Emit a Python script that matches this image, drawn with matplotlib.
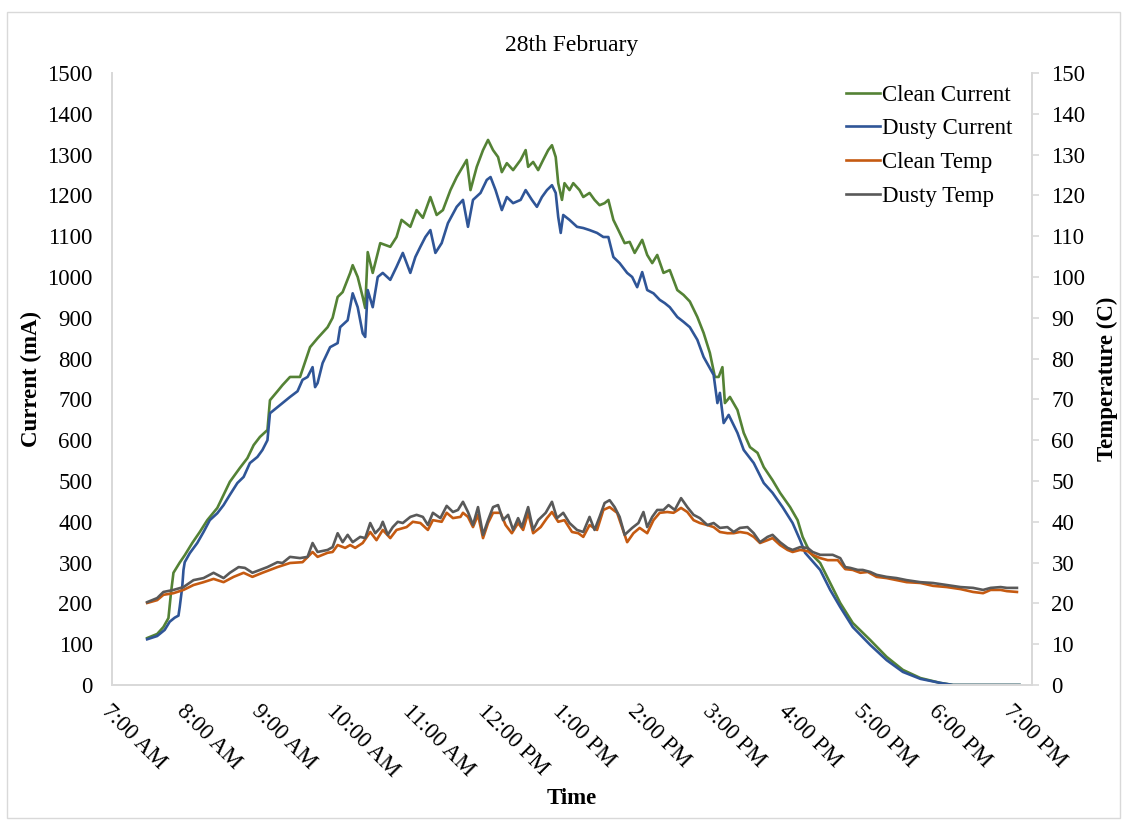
"""28th February: clean vs dusty panel current and temperature."""

import matplotlib

matplotlib.use("Agg")
import matplotlib.pyplot as plt
from matplotlib.patches import Rectangle

plt.rcParams["font.family"] = ["Liberation Serif", "DejaVu Serif"]

# minutes after 7:00 AM
clean_current_t = [28, 36, 41, 45, 47, 49, 52, 54, 58, 64, 70, 76, 84, 89, 94, 102, 108, 113,
                   118, 124, 126, 132, 136, 142, 150, 158, 164, 172, 176, 180, 184, 190, 192,
                   196, 200, 202, 204, 208, 214, 222, 227, 231, 238, 243, 248, 254, 259, 264,
                   270, 275, 283, 286, 291, 296, 300, 304, 308, 311, 315, 320, 326, 330, 332,
                   336, 340, 344, 348, 351, 354, 356, 359, 361, 365, 368, 373, 376, 381, 385,
                   389, 393, 396, 400, 404, 409, 413, 417, 423, 427, 431, 435, 440, 445, 451,
                   456, 461, 467, 472, 477, 481, 484, 487, 489, 493, 499, 504, 509, 515, 520,
                   527, 533, 541, 547, 551, 557, 565, 573, 581, 591, 605, 618, 631, 645, 661,
                   671, 724]
clean_current = [115, 125, 142, 164, 225, 275, 290, 300, 318, 348, 375, 404, 434, 466, 498,
                 532, 556, 588, 608, 625, 698, 720, 735, 755, 755, 828, 850, 877, 900, 951,
                 963, 1010, 1029, 1000, 951, 924, 1061, 1010, 1083, 1074, 1098, 1140, 1123,
                 1164, 1145, 1196, 1152, 1164, 1213, 1245, 1287, 1213, 1270, 1311, 1336, 1311,
                 1294, 1257, 1279, 1262, 1287, 1311, 1270, 1282, 1262, 1287, 1311, 1323, 1294,
                 1230, 1189, 1230, 1213, 1230, 1213, 1196, 1206, 1189, 1176, 1181, 1189, 1140,
                 1115, 1083, 1086, 1059, 1091, 1054, 1034, 1054, 1010, 1017, 968, 956, 940,
                 902, 863, 814, 755, 755, 779, 691, 706, 674, 618, 583, 569, 534, 502, 471,
                 436, 404, 363, 324, 299, 250, 201, 152, 110, 69, 37, 17, 5, 0, 0]

dusty_current_t = [28, 36, 42, 46, 50, 53, 54, 56, 57, 58, 62, 68, 73, 78, 84, 89, 94, 100,
                   105, 110, 116, 120, 124, 126, 132, 136, 142, 148, 152, 156, 160, 162, 164,
                   168, 174, 180, 182, 188, 192, 196, 200, 202, 204, 208, 212, 216, 222, 227,
                   232, 238, 242, 246, 250, 254, 258, 263, 268, 275, 280, 284, 288, 294, 299,
                   302, 306, 311, 315, 320, 326, 330, 335, 339, 343, 347, 351, 354, 356, 358,
                   360, 365, 371, 376, 381, 387, 392, 396, 400, 405, 411, 415, 419, 423, 427,
                   432, 437, 441, 445, 451, 456, 461, 467, 472, 480, 483, 485, 488, 492, 499,
                   504, 512, 520, 527, 535, 543, 549, 553, 565, 573, 581, 591, 605, 618, 631,
                   645, 661, 671, 724]
dusty_current = [112, 120, 135, 155, 165, 170, 191, 240, 282, 301, 323, 348, 375, 404, 421,
                 441, 466, 495, 510, 544, 559, 576, 600, 666, 681, 691, 706, 720, 748, 755,
                 779, 730, 740, 789, 828, 838, 877, 894, 960, 926, 862, 853, 968, 926, 1000,
                 1010, 993, 1025, 1059, 1010, 1049, 1074, 1098, 1115, 1059, 1083, 1132, 1172,
                 1189, 1123, 1189, 1206, 1238, 1245, 1213, 1164, 1196, 1181, 1189, 1213, 1189,
                 1172, 1196, 1213, 1225, 1206, 1147, 1108, 1152, 1140, 1123, 1120, 1115, 1108,
                 1098, 1098, 1049, 1034, 1010, 1000, 975, 1012, 968, 960, 944, 936, 926, 902,
                 890, 877, 846, 804, 760, 691, 716, 642, 662, 618, 576, 544, 495, 471, 436,
                 397, 355, 324, 282, 233, 191, 142, 98, 61, 32, 15, 5, 0, 0]

clean_temp_t = [28, 36, 41, 49, 57, 65, 73, 81, 89, 97, 105, 112, 120, 132, 142, 152, 160,
                164, 172, 176, 180, 186, 190, 194, 200, 206, 211, 216, 222, 227, 235, 240,
                246, 252, 256, 263, 267, 272, 278, 280, 284, 288, 292, 296, 300, 304, 310,
                314, 319, 324, 328, 332, 336, 342, 347, 351, 356, 361, 367, 372, 376, 381,
                387, 392, 397, 403, 405, 411, 416, 421, 427, 432, 437, 443, 448, 454, 459,
                464, 469, 475, 480, 485, 491, 496, 501, 507, 512, 517, 523, 527, 533, 539,
                543, 549, 555, 559, 565, 571, 579, 585, 591, 597, 603, 610, 618, 626, 634,
                645, 655, 666, 677, 687, 695, 701, 709, 714, 722]
clean_temp = [20.1, 20.8, 22.1, 22.5, 23.3, 24.5, 25.2, 26.0, 25.2, 26.5, 27.5, 26.5, 27.5,
              28.9, 29.9, 30.1, 32.6, 31.4, 32.4, 32.6, 34.3, 33.6, 34.3, 33.6, 34.8, 37.5,
              35.5, 38.0, 36.0, 38.0, 38.7, 40.0, 39.7, 38.0, 40.4, 40.0, 42.2, 40.9, 41.2,
              42.2, 41.2, 38.7, 41.7, 36.0, 39.7, 42.2, 42.2, 39.2, 37.2, 39.7, 38.0, 42.2,
              37.2, 38.7, 40.9, 42.4, 40.0, 40.4, 37.5, 37.2, 36.3, 39.2, 38.0, 42.9, 43.6,
              42.2, 40.4, 35.0, 37.2, 38.5, 37.2, 40.4, 42.2, 42.4, 42.2, 43.4, 42.4, 40.4,
              39.7, 39.2, 38.7, 37.5, 37.2, 37.2, 37.5, 37.2, 36.3, 34.8, 35.5, 36.0, 34.3,
              33.1, 32.6, 33.1, 32.8, 31.9, 31.1, 30.6, 30.6, 28.4, 28.2, 27.5, 27.7, 26.5,
              26.2, 25.7, 25.2, 25.0, 24.3, 24.0, 23.5, 22.8, 22.5, 23.3, 23.3, 23.0, 22.8]

dusty_temp_t = [28, 36, 41, 49, 57, 65, 73, 81, 89, 94, 101, 106, 112, 118, 124, 132, 136,
                142, 150, 156, 160, 164, 172, 176, 180, 184, 188, 192, 198, 202, 206, 210,
                214, 216, 220, 224, 228, 232, 238, 243, 248, 252, 256, 262, 267, 272, 276,
                280, 284, 288, 292, 296, 300, 304, 308, 312, 316, 320, 324, 327, 332, 336,
                340, 346, 351, 355, 360, 365, 371, 376, 381, 385, 389, 393, 397, 401, 405,
                409, 415, 420, 424, 427, 431, 435, 440, 444, 449, 454, 459, 464, 469, 475,
                480, 485, 491, 496, 501, 507, 512, 517, 523, 527, 533, 539, 543, 549, 555,
                559, 565, 571, 575, 581, 585, 589, 595, 599, 605, 610, 618, 626, 634, 645,
                655, 666, 677, 687, 695, 701, 709, 714, 722]
dusty_temp = [20.3, 21.3, 22.8, 23.3, 24.0, 25.7, 26.2, 27.5, 26.2, 27.5, 28.9, 28.7, 27.5,
              28.2, 28.9, 30.1, 29.9, 31.4, 31.1, 31.4, 34.8, 32.6, 33.1, 33.8, 37.2, 35.0,
              36.8, 35.0, 36.3, 36.0, 39.7, 37.2, 38.5, 40.0, 36.8, 38.7, 40.0, 39.7, 41.2,
              41.7, 41.2, 39.2, 42.2, 40.9, 43.9, 42.4, 42.9, 44.9, 42.4, 39.2, 43.6, 36.8,
              40.4, 43.6, 44.1, 40.4, 41.7, 38.0, 40.9, 38.7, 43.6, 38.0, 40.4, 42.2, 44.9,
              40.9, 42.2, 39.7, 38.0, 37.5, 41.2, 38.0, 41.2, 44.6, 45.3, 43.6, 41.2, 36.8,
              38.5, 39.7, 42.4, 38.7, 41.2, 42.9, 42.9, 44.1, 42.9, 45.8, 43.6, 41.7, 40.9,
              39.2, 39.7, 38.5, 38.7, 37.5, 38.5, 38.7, 37.2, 35.0, 36.3, 36.8, 35.0, 33.6,
              33.1, 33.8, 33.6, 32.6, 31.9, 31.9, 31.9, 31.1, 28.9, 28.7, 28.2, 28.2, 27.7,
              27.0, 26.5, 26.2, 25.7, 25.2, 25.0, 24.5, 24.0, 23.8, 23.3, 23.8, 24.0, 23.8,
              23.8]

hour_ticks = [0, 60, 120, 180, 240, 300, 360, 420, 480, 540, 600, 660, 720]
hour_labels = ["7:00 AM", "8:00 AM", "9:00 AM", "10:00 AM", "11:00 AM", "12:00 PM",
               "1:00 PM", "2:00 PM", "3:00 PM", "4:00 PM", "5:00 PM", "6:00 PM", "7:00 PM"]

GREEN = "#548235"
BLUE = "#2F5597"
ORANGE = "#C55A11"
GREY = "#595959"
AXIS = "#d9d9d9"
FS = 16.5

fig = plt.figure(figsize=(11.26, 8.23), dpi=100)
fig.patches.append(Rectangle((0.006, 0.006), 0.989, 0.979, transform=fig.transFigure,
                             fill=False, edgecolor=AXIS, linewidth=1.0))
ax = fig.add_axes([0.0995, 0.1677, 0.817, 0.7436])
ax2 = ax.twinx()

l1, = ax.plot(clean_current_t, clean_current, color=GREEN, lw=1.9, label="Clean Current")
l2, = ax.plot(dusty_current_t, dusty_current, color=BLUE, lw=1.9, label="Dusty Current")
l3, = ax2.plot(clean_temp_t, clean_temp, color=ORANGE, lw=1.9, label="Clean Temp")
l4, = ax2.plot(dusty_temp_t, dusty_temp, color=GREY, lw=1.9, label="Dusty Temp")

ax.set_xlim(0, 734)
ax.set_ylim(0, 1500)
ax2.set_ylim(0, 150)
ax.set_yticks(range(0, 1501, 100))
ax2.set_yticks(range(0, 151, 10))
ax.set_xticks(hour_ticks)
ax.set_xticklabels(hour_labels, rotation=-45, ha="left", va="top", rotation_mode="anchor")

for a in (ax, ax2):
    a.spines["top"].set_visible(False)
    for side in ("left", "right", "bottom"):
        a.spines[side].set_color(AXIS)
        a.spines[side].set_linewidth(1.3)
ax.tick_params(axis="y", length=0, pad=14, labelsize=FS)
ax.tick_params(axis="x", length=0, pad=11, labelsize=FS)
ax2.tick_params(axis="y", length=5, width=1.2, color=AXIS, pad=9, labelsize=FS)

ax.set_ylabel("Current (mA)", fontsize=FS, fontweight="bold", labelpad=4)
ax2.set_ylabel("Temperature (C)", fontsize=FS, fontweight="bold", rotation=90, labelpad=8)
ax.set_xlabel("Time", fontsize=FS, fontweight="bold", labelpad=5)
ax.set_title("28th February", fontsize=FS + 0.5, pad=16)

fig.legend(handles=[l1, l2, l3, l4], loc="upper left", bbox_to_anchor=(0.741, 0.911),
           frameon=False, fontsize=FS, handlelength=1.5, handletextpad=0.1,
           labelspacing=0.55, borderpad=0)

fig.savefig("out.png", dpi=100)
